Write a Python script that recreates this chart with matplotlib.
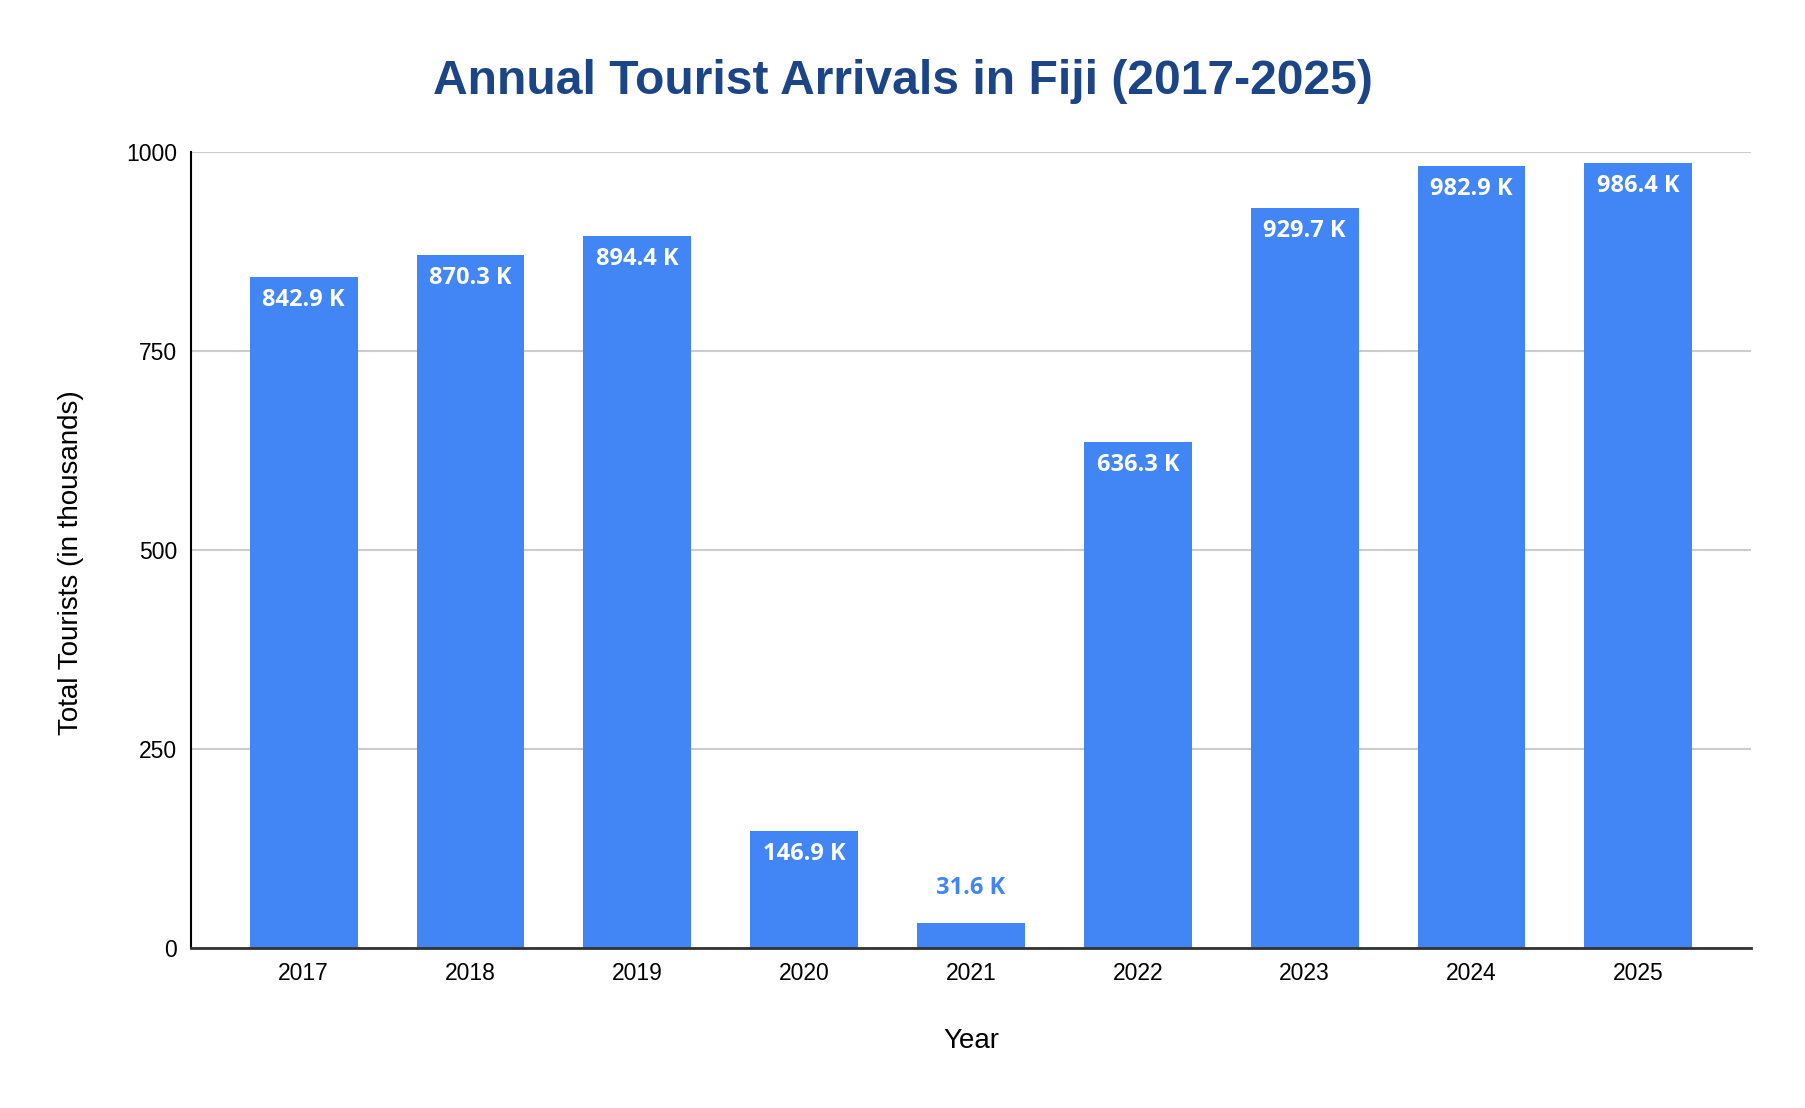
import matplotlib
matplotlib.use("Agg")
import matplotlib.pyplot as plt

years = ["2017", "2018", "2019", "2020", "2021", "2022", "2023", "2024", "2025"]
tourists = [842.9, 870.3, 894.4, 146.9, 31.6, 636.3, 929.7, 982.9, 986.4]
y_ticks = [0, 250, 500, 750, 1000]

bar_color = "#4285F4"
title_color = "#1C4587"

fig = plt.figure(figsize=(18.06, 11.08), dpi=100)
ax = fig.add_axes([0.1058, 0.1444, 0.8637, 0.7184])

x = list(range(len(years)))
bars = ax.bar(x, tourists, width=0.647, color=bar_color, zorder=3)

# labels: inside the bar, or above it when the bar is too short
for xi, v in zip(x, tourists):
    txt = f"{v:.1f} K"
    if v > 100:
        ax.annotate(txt, (xi, v), xytext=(0, -21), textcoords="offset points",
                    ha="center", va="baseline", color="white", fontsize=17,
                    fontweight="bold", family="Open Sans", zorder=4)
    else:
        ax.annotate(txt, (xi, v), xytext=(0, 21), textcoords="offset points",
                    ha="center", va="baseline", color=bar_color, fontsize=17,
                    fontweight="bold", family="Open Sans", zorder=4)

ax.set_xlim(-0.675, 8.675)
ax.set_ylim(0, 1000)
ax.set_xticks(x)
ax.set_xticklabels(years, family="Liberation Sans", fontsize=16.5)
ax.set_yticks(y_ticks)
ax.set_yticklabels([str(t) for t in y_ticks], family="Liberation Sans", fontsize=16.5)
ax.tick_params(axis="both", length=0, pad=10)

ax.grid(axis="y", color="#CCCCCC", linewidth=1.5, zorder=0)
for s in ["top", "right"]:
    ax.spines[s].set_visible(False)
ax.spines["left"].set_color("black")
ax.spines["left"].set_linewidth(1.5)
ax.spines["bottom"].set_color("#333333")
ax.spines["bottom"].set_linewidth(2)
ax.spines["bottom"].set_zorder(5)

fig.text(0.5, 0.915, "Annual Tourist Arrivals in Fiji (2017-2025)",
         ha="center", va="baseline", fontsize=34.6, fontweight="bold",
         color=title_color, family="Liberation Sans")
fig.text(0.5376, 1 - 1048 / 1108, "Year", ha="center", va="baseline",
         fontsize=20, family="Liberation Sans")
fig.text(71 / 1806, 1 - 563 / 1108, "Total Tourists (in thousands)",
         ha="center", va="center", rotation=90, fontsize=20,
         family="Liberation Sans")

fig.savefig("out.png", dpi=100, facecolor="white")
